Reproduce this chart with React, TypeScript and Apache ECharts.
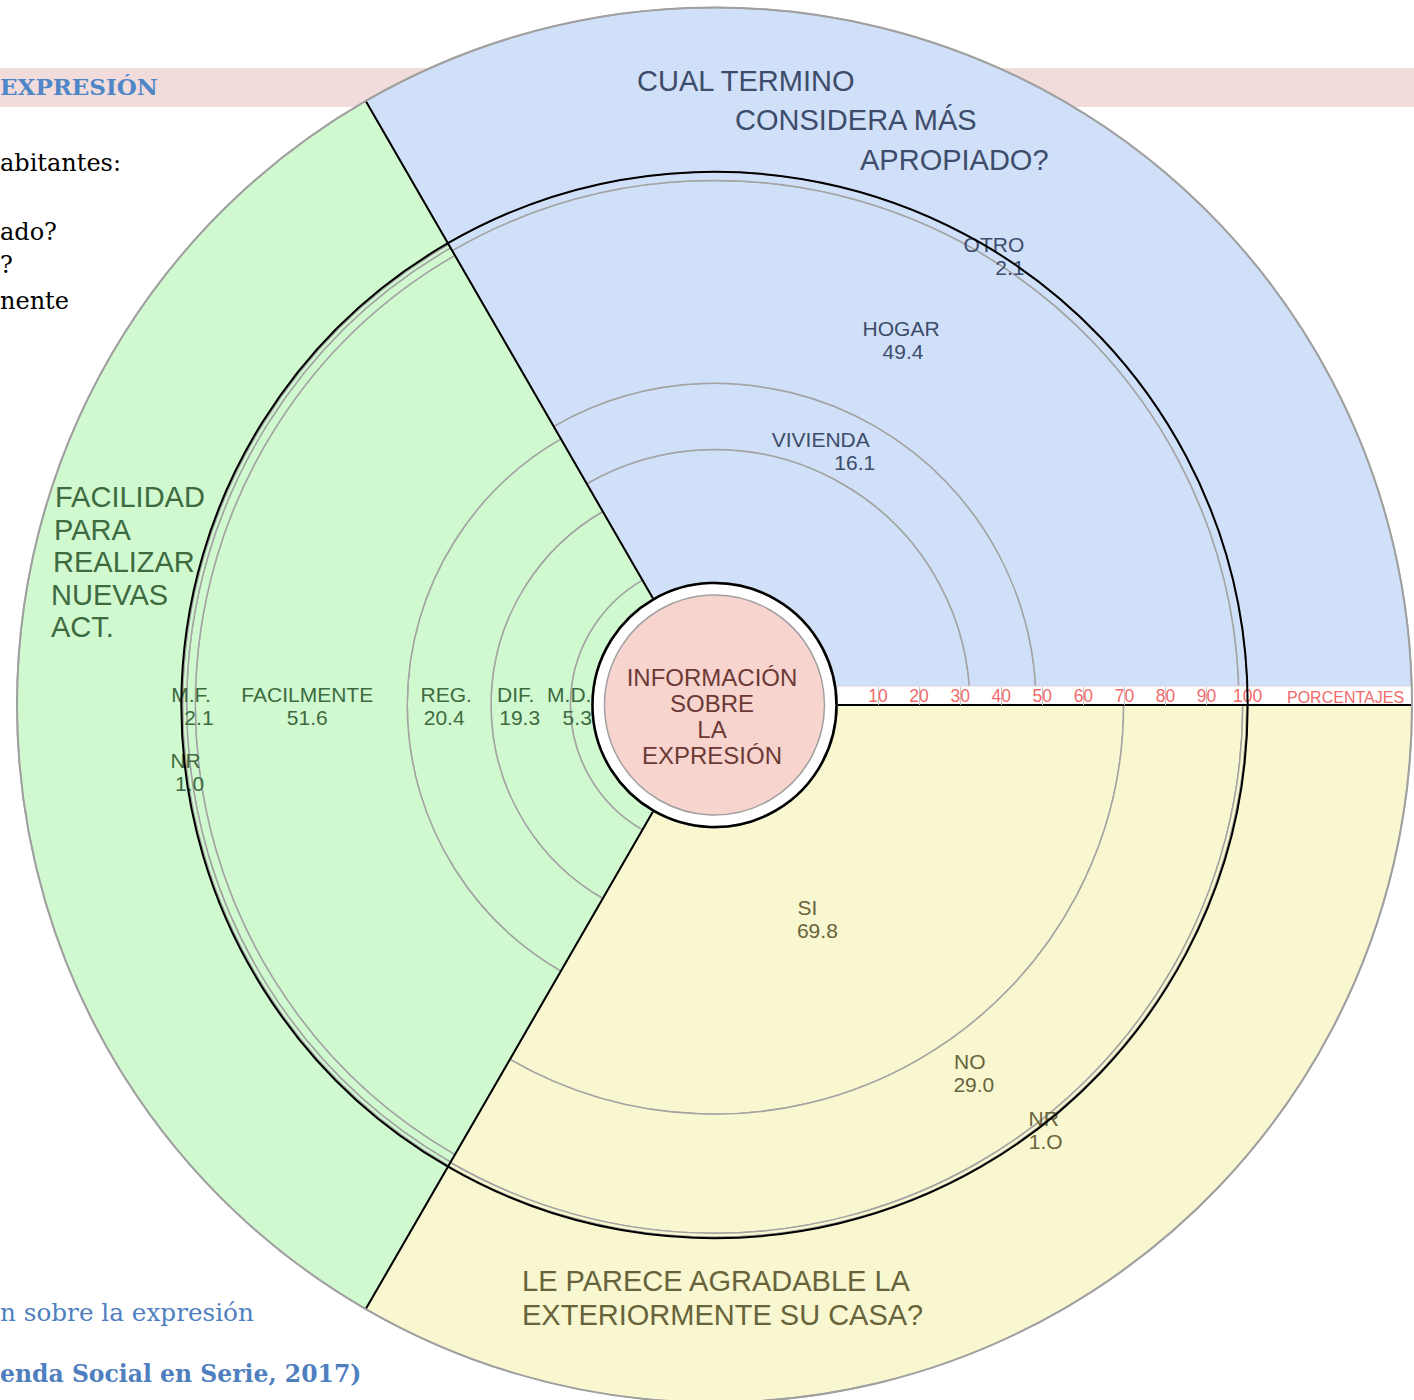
import React, { useEffect, useRef } from 'react';
import * as echarts from 'echarts';

// ---------- data ----------
const GROUPS = [
  'CUAL TERMINO CONSIDERA MÁS APROPIADO?',
  'FACILIDAD PARA REALIZAR NUEVAS ACT.',
  'LE PARECE AGRADABLE LA EXTERIORMENTE SU CASA?',
];

const TERM_NAMES = ['', 'VIVIENDA', 'HOGAR', 'OTRO'];
const TERM_VALUES = [32.4, 16.1, 49.4, 2.1];
const TERM_TEXTS = ['', '16.1', '49.4', '2.1'];

const EASE_NAMES = ['M.D.', 'DIF.', 'REG.', 'FACILMENTE', 'M.F.', 'NR'];
const EASE_VALUES = [5.3, 19.3, 20.4, 51.6, 2.1, 1.0];
const EASE_TEXTS = ['5.3', '19.3', '20.4', '51.6', '2.1', '1.0'];

const LIKE_NAMES = ['SI', 'NO', 'NR'];
const LIKE_VALUES = [69.8, 29.0, 1.0];
const LIKE_TEXTS = ['69.8', '29.0', '1.O'];

const TICKS = [10, 20, 30, 40, 50, 60, 70, 80, 90, 100];
const RADIUS_MAX = 140;

// ---------- layout / style ----------
const CX = 714.5;
const CY = 705;
const R_IN = 122.4;
const R_OUT = 697.5;
const SCALE = (R_OUT - R_IN) / RADIUS_MAX;

const FILLS = ['#cfe0f8', '#d0f9cf', '#f9f7cf'];
const INK = ['#3e4c6b', '#3e6a3f', '#67633b'];
const SANS = 'Liberation Sans';
const SERIF = 'DejaVu Serif';

// label offsets relative to the segment middle: [dx, dy, shiftLine1, shiftLine2]
const LABEL_LAYOUT: (number[] | null)[][] = [
  [null, [-21, -4, -17, 17], [-24, 1, -1, 1], [23, 9, -8, 8]],
  [[-8, 1, -4, 4], [-13, 1, -2, 2], [-4, 1, 1, -1], [6, 1, 0, 0], [4, 1, -4, 4], [3, 67, -2, 2]],
  [[-35, -16, -5, 5], [23, -38, -2, 2], [65, -34, -1, 1]],
];

const GROUP_DATA = [
  { names: TERM_NAMES, values: TERM_VALUES, texts: TERM_TEXTS },
  { names: EASE_NAMES, values: EASE_VALUES, texts: EASE_TEXTS },
  { names: LIKE_NAMES, values: LIKE_VALUES, texts: LIKE_TEXTS },
];

function pad(shift: number) {
  return shift < 0 ? [0, -2 * shift, 0, 0] : [0, 0, 0, 2 * shift];
}

function buildOption() {
  const layers = Math.max(...GROUP_DATA.map((g) => g.values.length));
  const series: any[] = [];
  for (let k = 0; k < layers; k++) {
    series.push({
      type: 'bar',
      coordinateSystem: 'polar',
      stack: 'total',
      barCategoryGap: '0%',
      silent: true,
      itemStyle: {
        color: (p: any) => FILLS[p.dataIndex],
        borderColor: '#a3a3a3',
        borderWidth: 1.5,
      },
      data: GROUP_DATA.map((g, gi) => {
        const v = g.values[k];
        if (v == null) return '-';
        const lay = LABEL_LAYOUT[gi][k];
        const name = g.names[k];
        if (!lay || !name) return { value: v, label: { show: false } };
        const base = { fontSize: 21, lineHeight: 23, color: INK[gi], fontFamily: SANS };
        return {
          value: v,
          label: {
            show: true,
            position: 'middle',
            rotate: 0,
            align: 'center',
            verticalAlign: 'middle',
            offset: [lay[0], lay[1]],
            formatter: `{n|${name}}\n{v|${g.texts[k]}}`,
            rich: {
              n: { ...base, padding: pad(lay[2]) },
              v: { ...base, padding: pad(lay[3]) },
            },
          },
        };
      }),
    });
  }
  // outer band carrying the question titles
  series.push({
    type: 'bar',
    coordinateSystem: 'polar',
    stack: 'total',
    barCategoryGap: '0%',
    silent: true,
    itemStyle: {
      color: (p: any) => FILLS[p.dataIndex],
      borderColor: '#a3a3a3',
      borderWidth: 1.5,
    },
    data: GROUP_DATA.map((g) => +(RADIUS_MAX - g.values.reduce((a, b) => a + b, 0)).toFixed(2)),
  });

  const txt = (text: string, x: number, y: number, opts: any = {}) => ({
    type: 'text',
    x,
    y,
    z: opts.z ?? 15,
    silent: true,
    style: {
      text,
      fill: opts.fill ?? '#000',
      fontSize: opts.fontSize ?? 29,
      fontFamily: opts.fontFamily ?? SANS,
      fontWeight: opts.fontWeight ?? 'normal',
      align: opts.align ?? 'left',
      textAlign: opts.align ?? 'left',
      verticalAlign: 'middle',
      textVerticalAlign: 'middle',
      lineHeight: opts.lineHeight,
    },
  });

  const graphic: any[] = [
    // document background
    { type: 'rect', z: -10, silent: true, shape: { x: 0, y: 68, width: 1414, height: 39 }, style: { fill: '#f2dcdb' } },
    txt('EXPRESIÓN', 0, 86, { z: -9, fontFamily: SERIF, fontWeight: 'bold', fontSize: 23, fill: '#4f86c8' }),
    txt('abitantes:', 0, 163, { z: -9, fontFamily: SERIF, fontSize: 24 }),
    txt('ado?', 0, 232, { z: -9, fontFamily: SERIF, fontSize: 24 }),
    txt('?', 0, 265, { z: -9, fontFamily: SERIF, fontSize: 24 }),
    txt('nente', 0, 301, { z: -9, fontFamily: SERIF, fontSize: 24 }),
    txt('n sobre la expresión', 0, 1312, { z: -9, fontFamily: SERIF, fontSize: 24.7, fill: '#4f7fbf' }),
    txt('enda Social en Serie, 2017)', 0, 1374, { z: -9, fontFamily: SERIF, fontWeight: 'bold', fontSize: 23.5, fill: '#4f7fbf' }),
    // white strip under the percentage scale
    { type: 'rect', z: 5, silent: true, shape: { x: CX + R_IN, y: CY - 19, width: R_OUT - R_IN, height: 19 }, style: { fill: '#ffffff', stroke: '#d6d6d6', lineWidth: 1 } },
    txt('PORCENTAJES', 1287, 697, { z: 12, fontSize: 16, fill: '#f36a6a' }),
    // 100% circle
    { type: 'circle', z: 15, silent: true, shape: { cx: CX, cy: CY, r: R_IN + 100 * SCALE }, style: { fill: 'none', stroke: '#000', lineWidth: 2 } },
    // centre
    { type: 'circle', z: 20, silent: true, shape: { cx: CX, cy: CY, r: 122 }, style: { fill: '#ffffff', stroke: '#000', lineWidth: 2.5 } },
    { type: 'circle', z: 21, silent: true, shape: { cx: CX, cy: CY, r: 110 }, style: { fill: '#f8d4cf', stroke: '#a0a0a0', lineWidth: 1.5 } },
    txt('INFORMACIÓN\nSOBRE\nLA\nEXPRESIÓN', 712, 716, { z: 22, fontSize: 24, lineHeight: 26, align: 'center', fill: '#6b3a35' }),
    // question titles
    txt('CUAL TERMINO', 637, 81, { fill: INK[0] }),
    txt('CONSIDERA MÁS', 735, 120, { fill: INK[0] }),
    txt('APROPIADO?', 860, 160, { fill: INK[0] }),
    txt('FACILIDAD', 55, 497, { fill: INK[1] }),
    txt('PARA', 54, 530, { fill: INK[1] }),
    txt('REALIZAR', 53, 562, { fill: INK[1] }),
    txt('NUEVAS', 51, 595, { fill: INK[1] }),
    txt('ACT.', 51, 627, { fill: INK[1] }),
    txt('LE PARECE AGRADABLE LA', 522, 1281, { fill: INK[2] }),
    txt('EXTERIORMENTE SU CASA?', 522, 1315, { fill: INK[2] }),
  ];

  return {
    animation: false,
    polar: { center: [CX, CY], radius: [R_IN, R_OUT] },
    angleAxis: {
      type: 'category',
      data: GROUPS,
      startAngle: 0,
      clockwise: false,
      boundaryGap: true,
      z: 10,
      axisLine: { show: true, lineStyle: { color: '#a0a0a0', width: 2 } },
      axisTick: { show: false },
      axisLabel: { show: false },
      splitLine: { show: true, lineStyle: { color: '#000', width: 2 } },
    },
    radiusAxis: {
      type: 'value',
      min: 0,
      max: RADIUS_MAX,
      interval: 10,
      z: 10,
      axisLine: { show: true, lineStyle: { color: '#000', width: 2 } },
      axisTick: { show: true, customValues: TICKS, length: 18, lineStyle: { color: '#c8c8c8', width: 1 } },
      axisLabel: { show: true, customValues: TICKS, margin: 0, color: '#f36a6a', fontSize: 17.5, fontFamily: SANS },
      splitLine: { show: false },
    },
    graphic,
    series,
  };
}

export default function App() {
  const ref = useRef<HTMLDivElement>(null);
  useEffect(() => {
    if (!ref.current) return;
    const chart = echarts.init(ref.current, undefined, { renderer: 'svg' });
    chart.setOption(buildOption() as any);
    return () => chart.dispose();
  }, []);
  return (
    <div
      ref={ref}
      style={{ position: 'absolute', left: 0, top: 0, width: 1414, height: 1400, background: '#ffffff' }}
    />
  );
}
